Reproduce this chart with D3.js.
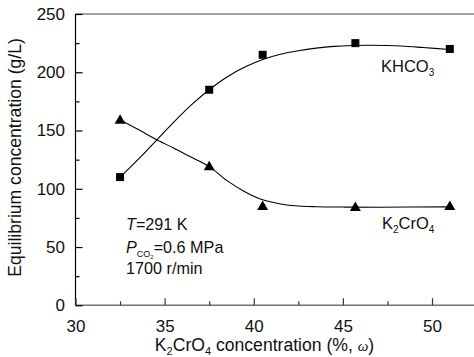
<!DOCTYPE html>
<html><head><meta charset="utf-8">
<script src="https://cdn.jsdelivr.net/npm/d3@7"></script>
<style>
body{margin:0;background:#fff;}
svg{display:block;font-family:Arial,"Liberation Sans",sans-serif;}
</style></head>
<body><svg id="c" width="474" height="357"></svg>
<script>
// data
const xPts = [32.5, 37.5, 40.5, 45.7, 51.0];
const khco3 = [110, 185, 215, 225, 220];
const k2cro4 = [159, 119, 85, 84, 85];
// fitted curves
const khco3FitX = [32.5, 33.5, 34.5, 35.5, 36.5, 37.5, 38.5, 39.5, 40.5, 41.5, 42.5, 43.5, 44.5, 45.5, 46.5, 47.5, 48.5, 49.5, 51.0];
const khco3FitY = [110, 125, 141, 157, 172, 185, 196, 204.5, 211, 215.5, 218.5, 220.7, 222.2, 223, 223.2, 223, 222.3, 221.2, 219.5];
const k2cro4FitX = [32.5, 33.5, 34.5, 35.5, 36.5, 37.5, 38.5, 39.5, 40.5, 41.5, 42.5, 43.5, 45.0, 47.0, 51.0];
const k2cro4FitY = [159, 151, 142.5, 135, 127, 119, 107, 97.5, 90.5, 87, 85.2, 84.6, 84.3, 84.2, 84.5];
const xTicks = [30, 35, 40, 45, 50];
const xMinor = [32.5, 37.5, 42.5, 47.5, 52.5];
const yTicks = [0, 50, 100, 150, 200, 250];
const yMinor = [25, 75, 125, 175, 225];

const svg = d3.select("#c");
const x = d3.scaleLinear().domain([30, 52.8]).range([75.5, 75.5 + 22.8 * 17.825]);
const y = d3.scaleLinear().domain([0, 250]).range([305.3, 14]);

// frame lines
svg.append("line").attr("x1", x(30)).attr("x2", 474).attr("y1", y(250)).attr("y2", y(250))
  .attr("stroke", "#808080").attr("stroke-width", 1.4);
svg.append("line").attr("x1", x(30)).attr("x2", 474).attr("y1", y(0)).attr("y2", y(0))
  .attr("stroke", "#707070").attr("stroke-width", 1.4);
svg.append("line").attr("x1", x(30)).attr("x2", x(30)).attr("y1", y(0)).attr("y2", y(250))
  .attr("stroke", "#000").attr("stroke-width", 1.2);

// x ticks (inward)
const gx = svg.append("g").attr("transform", `translate(0,${y(0)})`);
gx.call(d3.axisBottom(x).tickValues(xTicks).tickSize(-7).tickFormat(d3.format("d")));
gx.select(".domain").remove();
gx.selectAll(".tick line").attr("stroke", "#333").attr("stroke-width", 1.2);
gx.selectAll(".tick text").attr("font-size", 17).attr("fill", "#111").attr("y", 14.6).attr("dy", "0.71em");
const gxm = svg.append("g").attr("transform", `translate(0,${y(0)})`);
gxm.call(d3.axisBottom(x).tickValues(xMinor).tickSize(-4).tickFormat(""));
gxm.select(".domain").remove();
gxm.selectAll(".tick line").attr("stroke", "#333").attr("stroke-width", 1.2);

// y ticks (inward)
const gy = svg.append("g").attr("transform", `translate(${x(30)},0)`);
gy.call(d3.axisLeft(y).tickValues(yTicks).tickSize(-7).tickFormat(d3.format("d")));
gy.select(".domain").remove();
gy.selectAll(".tick line").attr("stroke", "#000").attr("stroke-width", 1.2);
gy.selectAll(".tick text").attr("font-size", 17).attr("fill", "#111").attr("x", -10.5);
const gym = svg.append("g").attr("transform", `translate(${x(30)},0)`);
gym.call(d3.axisLeft(y).tickValues(yMinor).tickSize(-4).tickFormat(""));
gym.select(".domain").remove();
gym.selectAll(".tick line").attr("stroke", "#000").attr("stroke-width", 1.2);

// curves
const line = d3.line().x(d => x(d[0])).y(d => y(d[1])).curve(d3.curveCatmullRom);
svg.append("path").attr("d", line(khco3FitX.map((v, i) => [v, khco3FitY[i]])))
  .attr("fill", "none").attr("stroke", "#000").attr("stroke-width", 1.1);
svg.append("path").attr("d", line(k2cro4FitX.map((v, i) => [v, k2cro4FitY[i]])))
  .attr("fill", "none").attr("stroke", "#000").attr("stroke-width", 1.1);

// markers
svg.selectAll(".sq").data(xPts).enter().append("rect")
  .attr("x", (d) => x(d) - 4).attr("y", (d, i) => y(khco3[i]) - 4)
  .attr("width", 8).attr("height", 8).attr("fill", "#000");
const tri = d3.symbol().type(d3.symbolTriangle).size(52);
svg.selectAll(".tr").data(xPts).enter().append("path")
  .attr("d", tri).attr("fill", "#000")
  .attr("transform", (d, i) => `translate(${x(d)},${y(k2cro4[i]) + 0.5})`);

// series labels
const t1 = svg.append("text").attr("x", 381).attr("y", 72).attr("font-size", 16.5).attr("fill", "#111");
t1.append("tspan").text("KHCO");
t1.append("tspan").text("3").attr("font-size", 10).attr("dy", 4);
const t2 = svg.append("text").attr("x", 382).attr("y", 229).attr("font-size", 16.5).attr("fill", "#111");
t2.append("tspan").text("K");
t2.append("tspan").text("2").attr("font-size", 10).attr("dy", 4);
t2.append("tspan").text("CrO").attr("dy", -4);
t2.append("tspan").text("4").attr("font-size", 10).attr("dy", 4);

// annotation
const a1 = svg.append("text").attr("x", 126).attr("y", 230).attr("font-size", 16.2).attr("fill", "#111");
a1.append("tspan").text("T").attr("font-style", "italic");
a1.append("tspan").text("=291 K");
const a2 = svg.append("text").attr("x", 126).attr("y", 253).attr("font-size", 16.2).attr("fill", "#111");
a2.append("tspan").text("P").attr("font-style", "italic");
a2.append("tspan").text("CO").attr("font-size", 9).attr("dy", 4);
a2.append("tspan").text("2").attr("font-size", 6).attr("dy", 2);
a2.append("tspan").text("=0.6 MPa").attr("dy", -6);
svg.append("text").attr("x", 126).attr("y", 274).attr("font-size", 16.2).attr("fill", "#111").text("1700 r/min");

// axis titles
const xt = svg.append("text").attr("x", 264.5).attr("y", 351).attr("text-anchor", "middle").attr("font-size", 17.6).attr("fill", "#111");
xt.append("tspan").text("K");
xt.append("tspan").text("2").attr("font-size", 11).attr("dy", 4);
xt.append("tspan").text("CrO").attr("dy", -4);
xt.append("tspan").text("4").attr("font-size", 11).attr("dy", 4);
xt.append("tspan").text(" concentration (%, ").attr("dy", -4);
xt.append("tspan").text("ω").attr("font-style", "italic").attr("font-size", 15).attr("font-family", "'Liberation Serif','DejaVu Serif',serif");
xt.append("tspan").text(")");
svg.append("text").attr("transform", "translate(21,157.5) rotate(-90)").attr("text-anchor", "middle")
  .attr("font-size", 17.6).attr("fill", "#111").text("Equilibrium concentration (g/L)");
</script></body></html>
